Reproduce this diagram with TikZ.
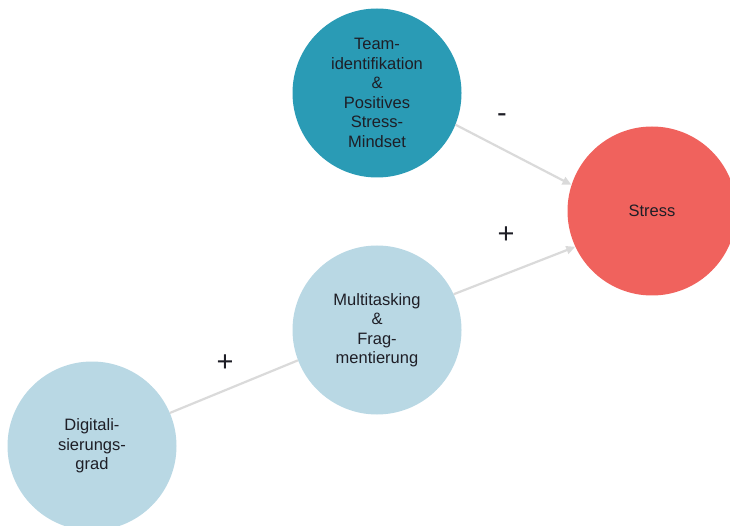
\documentclass[tikz,border=0pt]{standalone}
\usepackage{fontspec}
\setmainfont{Liberation Sans}
\usetikzlibrary{arrows.meta,positioning}
\definecolor{teamblue}{RGB}{42,155,181}
\definecolor{stressred}{RGB}{240,98,93}
\definecolor{paleblue}{RGB}{185,216,228}
\definecolor{linkgray}{RGB}{218,218,218}
\definecolor{textdark}{RGB}{30,30,38}

\begin{document}
\begin{tikzpicture}[x=1pt,y=-1pt,
  factor/.style={circle,minimum size=169pt,inner sep=0pt,align=center,text=textdark,font=\fontsize{16.5}{19.5}\selectfont},
  link/.style={draw=linkgray,line width=2.2pt,-{Triangle[length=9pt,width=8pt]}},
  sign/.style={text=textdark,font=\fontsize{29}{29}\selectfont}]
\useasboundingbox (0,0) rectangle (730,526);
\node[factor,fill=teamblue] (team) at (377,93) {Team-\\identifikation\\\&\\Positives\\Stress-\\Mindset};
\node[factor,fill=stressred] (stress) at (652,211) {Stress};
\node[factor,fill=paleblue] (multi) at (377,330) {Multitasking\\\&\\Frag-\\mentierung};
\node[factor,fill=paleblue] (digi) at (92,446) {Digitali-\\sierungs-\\grad};

\draw[link] (team.-22) -- (stress.162);
\draw[link] (multi.25) -- (stress.205);
\draw[link,-] (digi.23) -- (multi.201);

\node[sign] (minus) at (502,118) {-};
\node[sign] (plusup) at (506,235) {+};
\node[sign] (pluslow) at (225,363) {+};
\end{tikzpicture}
\end{document}
